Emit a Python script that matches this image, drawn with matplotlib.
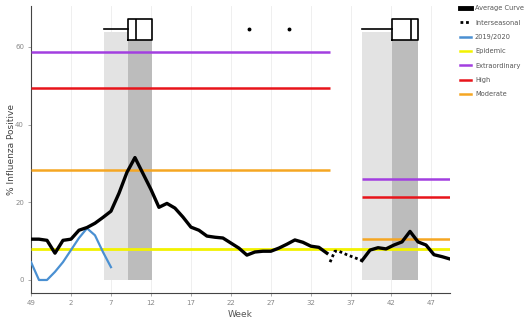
import numpy as np
import matplotlib
matplotlib.use("Agg")
import matplotlib.pyplot as plt
from matplotlib.lines import Line2D

# semaines affichées (axe x = position depuis la semaine 49)
tick_pos = [0, 5, 10, 15, 20, 25, 30, 35, 40, 45, 50]
tick_labels = ["49", "2", "7", "12", "17", "22", "27", "32", "37", "42", "47"]

# courbe moyenne, saison 1 (positions 0..37)
avg1_x = list(range(38))
avg1_y = [10.5, 10.5, 10.2, 6.9, 10.2, 10.5, 12.8, 13.5, 14.6, 16.1,
          17.7, 22.3, 27.7, 31.5, 27.4, 23.3, 18.7, 19.7, 18.5, 16.2,
          13.6, 12.8, 11.3, 11.0, 10.8, 9.5, 8.2, 6.4, 7.2, 7.4,
          7.4, 8.2, 9.2, 10.3, 9.7, 8.7, 8.4, 6.9]

# interseasonal (pointillé)
inter_x = [37.4, 38.0, 38.5, 39.5, 40.4, 41.4]
inter_y = [4.6, 7.4, 7.4, 6.5, 5.8, 5.0]

# courbe moyenne, saison 2
avg2_x = [41.4, 42.4, 43.4, 44.4, 45.4, 46.4, 47.4, 48.4, 49.4, 50.4, 51.4, 52.4]
avg2_y = [5.0, 7.7, 8.3, 8.0, 9.0, 9.8, 12.5, 9.8, 9.0, 6.5, 6.0, 5.4]

# saison 2019/2020
s2019_x = list(range(11))
s2019_y = [4.6, 0.0, 0.0, 2.1, 4.6, 7.7, 10.8, 13.3, 11.5, 7.2, 3.3]

# seuils
epidemic = 8.0
seuils1 = {"Extraordinary": 58.6, "High": 49.3, "Moderate": 28.4}
seuils2 = {"Extraordinary": 26.0, "High": 21.4, "Moderate": 10.5}
couleurs = {"Epidemic": "#f2f200", "Extraordinary": "#a23fe0",
            "High": "#e8141a", "Moderate": "#f5a623"}

# boites (début / pic de saison)
box1 = dict(med=13.1, q1=12.1, q3=15.1, whislo=9.1, whishi=15.1, fliers=[27.25, 32.25])
box2 = dict(med=47.5, q1=45.1, q3=48.4, whislo=41.4, whishi=48.4, fliers=[])

fig = plt.figure(figsize=(5.28, 3.2), dpi=100)
ax = fig.add_axes([31/528, 1 - 293/320, (450 - 31)/528, (293 - 6)/320])

# zones grises
ax.bar([box1["whislo"], box2["whislo"]], [63.8, 63.8],
       width=[box1["q1"] - box1["whislo"], box2["q1"] - box2["whislo"]],
       align="edge", color="#e3e3e3", zorder=1)
ax.bar([box1["q1"], box2["q1"]], [61.8, 61.8],
       width=[box1["q3"] - box1["q1"], box2["q3"] - box2["q1"]],
       align="edge", color="#bcbcbc", zorder=1)

for p in tick_pos:
    ax.axvline(p, color="#ececec", lw=0.6, zorder=0)

# seuils
ax.hlines(epidemic, 0, 52.4, color=couleurs["Epidemic"], lw=2, zorder=3)
for k, v in seuils1.items():
    ax.hlines(v, 0, 37.4, color=couleurs[k], lw=1.8, zorder=3)
for k, v in seuils2.items():
    ax.hlines(v, 41.4, 52.4, color=couleurs[k], lw=1.8, zorder=3)

ax.plot(s2019_x, s2019_y, color="#4a90d2", lw=1.6, zorder=4)
ax.plot(avg1_x, avg1_y, color="black", lw=2.4, zorder=5)
ax.plot(avg2_x, avg2_y, color="black", lw=2.4, zorder=5)
ax.plot(inter_x, inter_y, color="black", lw=2.0, ls=(0, (1, 1)), zorder=5)

ax.bxp([box1, box2], positions=[64.5, 64.5], widths=5.4, orientation="horizontal",
       showcaps=False, manage_ticks=False,
       boxprops=dict(color="black", lw=1.2),
       medianprops=dict(color="black", lw=1.2),
       whiskerprops=dict(color="black", lw=1.2),
       flierprops=dict(marker="o", markersize=1.8, markerfacecolor="black",
                       markeredgecolor="black"), zorder=6)

ax.set_xlim(0, 52.4)
ax.set_ylim(-3.35, 70.5)
ax.set_xticks(tick_pos)
ax.set_xticklabels(tick_labels)
ax.set_yticks([0, 20, 40, 60])
ax.tick_params(labelsize=5, colors="#888888", length=2, width=0.5, pad=3)
for s in ["top", "right"]:
    ax.spines[s].set_visible(False)
for s in ["left", "bottom"]:
    ax.spines[s].set_color("#444444")
    ax.spines[s].set_linewidth(0.8)
ax.set_xlabel("Week", fontsize=6.5, color="#555555", labelpad=3)
ax.set_ylabel("% Influenza Positive", fontsize=6.5, color="#444444")
ax.yaxis.set_label_coords(-0.036, 0.5)

handles = [Line2D([], [], color="black", lw=3.5),
           Line2D([], [], color="black", lw=2.0, ls=(0, (1, 1))),
           Line2D([], [], color="#4a90d2", lw=1.8),
           Line2D([], [], color=couleurs["Epidemic"], lw=1.8),
           Line2D([], [], color=couleurs["Extraordinary"], lw=1.8),
           Line2D([], [], color=couleurs["High"], lw=1.8),
           Line2D([], [], color=couleurs["Moderate"], lw=1.8)]
labels = ["Average Curve", "Interseasonal", "2019/2020", "Epidemic",
          "Extraordinary", "High", "Moderate"]
leg = fig.legend(handles, labels, loc="upper left", bbox_to_anchor=(459/528, 1 - 4/320),
                 frameon=False, fontsize=4.8, handlelength=1.6, handletextpad=0.6,
                 labelspacing=1.25, borderaxespad=0, borderpad=0.2)
for t in leg.get_texts():
    t.set_color("#555555")

fig.savefig("out.png", dpi=100)
